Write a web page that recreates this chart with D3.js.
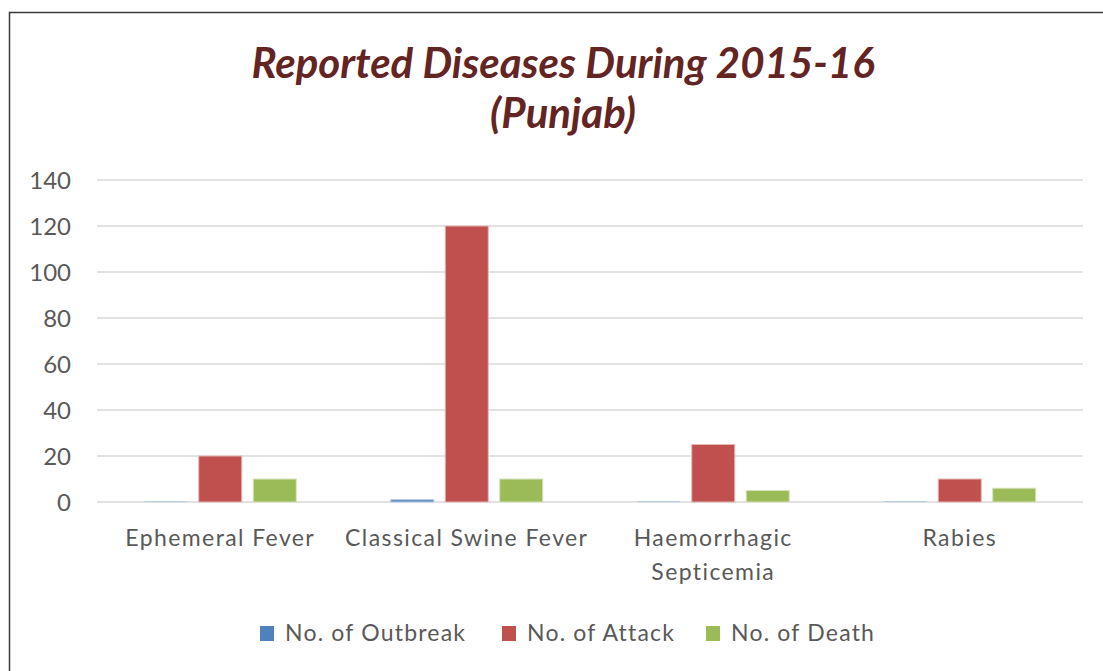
<!DOCTYPE html>
<html>
<head>
<meta charset="utf-8">
<script src="https://cdn.jsdelivr.net/npm/d3@7"></script>
<style>
  html, body { margin: 0; padding: 0; background: #fff; }
  svg { display: block; }
  text { font-family: Lato, "Open Sans", "Liberation Sans", sans-serif; }
</style>
</head>
<body>
<div id="chart"></div>
<script>
// Disease categories (x axis) – multi-line labels split on "\n"
const categories = ["Ephemeral Fever", "Classical Swine Fever", "Haemorrhagic\nSepticemia", "Rabies"];

// Series
const seriesNames = ["No. of Outbreak", "No. of Attack", "No. of Death"];
const outbreaks = [0, 1, 0, 0];
const attacks   = [20, 120, 25, 10];
const deaths    = [10, 10, 5, 6];

// Y axis ticks
const yTicks = [0, 20, 40, 60, 80, 100, 120, 140];

const titleLines = ["Reported Diseases During 2015-16", "(Punjab)"];

const colors = ["#4F81BD", "#C0504D", "#9BBB59"];
const strokes = ["#B9CDE5", "#E6B9B8", "#D7E4BD"];

const W = 1103, H = 671;
const plot = { left: 97, right: 1083, top: 180, bottom: 502 };

const svg = d3.select("#chart").append("svg")
  .attr("width", W).attr("height", H);

// Chart frame
svg.append("rect")
  .attr("x", 9.5).attr("y", 12.5)
  .attr("width", W + 20).attr("height", H + 20)
  .attr("fill", "#fff").attr("stroke", "#3a3a3a").attr("stroke-width", 1.5);

// Title
const title = svg.append("text")
  .attr("text-anchor", "middle")
  .attr("fill", "#632523")
  .style("font-size", "42px")
  .style("font-weight", "bold")
  .style("font-style", "italic");
title.selectAll("tspan").data(titleLines).join("tspan")
  .attr("x", 563)
  .attr("y", (d, i) => 78 + i * 50)
  .text(d => d);

// Scales
const y = d3.scaleLinear().domain([0, 140]).range([plot.bottom, plot.top]);
const x0 = d3.scaleBand().domain(categories).range([plot.left, plot.right]).paddingInner(0).paddingOuter(0);
const groupW = 152;
const x1 = d3.scaleBand().domain(seriesNames).range([0, groupW]).paddingInner(0.21).paddingOuter(0);
const groupOffset = (x0.bandwidth() - groupW) / 2;

// Gridlines
svg.append("g")
  .selectAll("line").data(yTicks).join("line")
  .attr("x1", plot.left).attr("x2", plot.right)
  .attr("y1", d => y(d)).attr("y2", d => y(d))
  .attr("stroke", "#D9D9D9").attr("stroke-width", 1.5);

// Y axis labels
const yAxis = d3.axisLeft(y).tickValues(yTicks).tickSize(0).tickPadding(0);
const gy = svg.append("g").attr("transform", `translate(71,0)`).call(yAxis);
gy.select(".domain").remove();
gy.selectAll("text")
  .attr("fill", "#595959")
  .style("font-size", "24px")
  .attr("dy", "0.36em");

// Bars (zero values still show as a hairline at the baseline)
const seriesData = [outbreaks, attacks, deaths];
seriesNames.forEach((name, si) => {
  svg.append("g")
    .selectAll("rect").data(categories.map((c, ci) => ({ c, v: seriesData[si][ci] })))
    .join("rect")
    .attr("x", d => x0(d.c) + groupOffset + x1(name))
    .attr("y", d => y(0) - Math.max(y(0) - y(d.v), 1))
    .attr("width", x1.bandwidth())
    .attr("height", d => Math.max(y(0) - y(d.v), 1))
    .attr("fill", d => d.v === 0 ? strokes[si] : colors[si])
    .attr("stroke", strokes[si])
    .attr("stroke-width", d => d.v === 0 ? 0 : 1);
});

// X axis category labels
const xAxis = d3.axisBottom(x0).tickSize(0).tickPadding(0);
const gx = svg.append("g").attr("transform", `translate(0,${plot.bottom})`).call(xAxis);
gx.select(".domain").remove();
gx.selectAll("text").each(function (d) {
  const t = d3.select(this);
  t.text(null)
    .attr("y", 0).attr("dy", null)
    .attr("fill", "#595959")
    .style("font-size", "23px")
    .style("letter-spacing", "1.4px");
  d.split("\n").forEach((line, i) => {
    t.append("tspan").attr("x", 0).attr("y", 44 + i * 34).text(line);
  });
});

// Legend
const legendX = [260, 502, 706];
const lg = svg.append("g");
seriesNames.forEach((name, i) => {
  lg.append("rect")
    .attr("x", legendX[i]).attr("y", 626)
    .attr("width", 14).attr("height", 15)
    .attr("fill", colors[i]);
  lg.append("text")
    .attr("x", legendX[i] + 25).attr("y", 641)
    .attr("fill", "#595959")
    .style("font-size", "23px")
    .style("letter-spacing", "1.2px")
    .text(name);
});
</script>
</body>
</html>
